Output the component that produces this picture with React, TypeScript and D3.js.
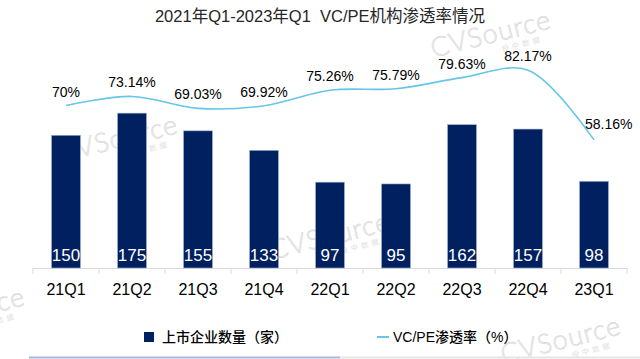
import React from 'react';
import * as d3 from 'd3';

const categories = ['21Q1', '21Q2', '21Q3', '21Q4', '22Q1', '22Q2', '22Q3', '22Q4', '23Q1'];
const companies = [150, 175, 155, 133, 97, 95, 162, 157, 98];
const rates = [70, 73.14, 69.03, 69.92, 75.26, 75.79, 79.63, 82.17, 58.16];
const rateLabels = ['70%', '73.14%', '69.03%', '69.92%', '75.26%', '75.79%', '79.63%', '82.17%', '58.16%'];
const title = '2021年Q1-2023年Q1\u00a0\u00a0VC/PE机构渗透率情况';
const legendBar = '上市企业数量（家）';
const legendLine = 'VC/PE渗透率（%）';

const W = 640;
const H = 359;
const FONT = "'Liberation Sans', Arial, 'Noto Sans CJK SC', sans-serif";
const BAR = '#002060';
const LINE = '#65c6ea';

const watermarks: [number, number][] = [
  [491, 35],
  [118, 140],
  [330, 237],
  [561, 341],
  [-35, 312],
];

export default function App() {
  const x = d3.scaleBand<string>().domain(categories).range([33, 627]).paddingInner(0.56).paddingOuter(0.28);
  const yBar = d3.scaleLinear().domain([0, 200]).range([268, 91]);
  const yRate = d3.scaleLinear().domain([14, 100]).range([268, 18.5]);
  const cx = (c: string) => (x(c) as number) + x.bandwidth() / 2;

  const pts: [number, number][] = categories.map((c, i) => [cx(c), yRate(rates[i])]);
  const linePath = d3.line().curve(d3.curveCatmullRom.alpha(0.5))(pts) || '';

  const step = x.step();
  const boundaries = d3.range(categories.length + 1).map((i) => 33 + i * step);

  return (
    <svg width={W} height={H} style={{ position: 'absolute', left: 0, top: 0, background: '#fff' }} fontFamily={FONT}>
      <rect x={0} y={0} width={W} height={H} fill="#fff" />
      {watermarks.map(([wx, wy], i) => (
        <g key={i} transform={`translate(${wx},${wy}) rotate(-14)`}>
          <text
            x={0}
            y={8}
            textAnchor="middle"
            fontSize={27}
            fontFamily="Lato, 'Open Sans', sans-serif"
            fontWeight={300}
            fill="#f3f3f3"
            stroke="#d8d8d8"
            strokeWidth={0.6}
            letterSpacing={1}
          >
            CVSource
          </text>
          <text x={28} y={19} textAnchor="middle" fontSize={7.5} fill="#e2e2e2" fontFamily="'Noto Sans CJK SC', sans-serif" letterSpacing={3}>
            投中数据
          </text>
        </g>
      ))}

      <text x={320} y={22} textAnchor="middle" fontSize={16.5} fill="#262626">
        {title}
      </text>

      {/* x axis */}
      <line x1={33} x2={627} y1={268.5} y2={268.5} stroke="#d9d9d9" strokeWidth={1} />
      {boundaries.map((bx, i) => (
        <line key={i} x1={bx} x2={bx} y1={268} y2={274} stroke="#d9d9d9" strokeWidth={1} />
      ))}
      {categories.map((c) => (
        <text key={c} x={cx(c)} y={295} textAnchor="middle" fontSize={16} fill="#000">
          {c}
        </text>
      ))}

      {/* bars */}
      {categories.map((c, i) => (
        <rect
          key={c}
          x={x(c)}
          y={yBar(companies[i])}
          width={x.bandwidth()}
          height={yBar(0) - yBar(companies[i])}
          fill={BAR}
          stroke="#a9b8d4"
          strokeWidth={0.6}
        />
      ))}
      {categories.map((c, i) => (
        <text key={c} x={cx(c)} y={261} textAnchor="middle" fontSize={17} fill="#fff">
          {companies[i]}
        </text>
      ))}

      {/* line */}
      <path d={linePath} fill="none" stroke={LINE} strokeWidth={1.6} />
      {pts.map(([px, py], i) => {
        const last = i === pts.length - 1;
        return (
          <text
            key={i}
            x={last ? px - 9 : px}
            y={last ? py - 11 : py - 9}
            textAnchor={last ? 'start' : 'middle'}
            fontSize={14}
            fill="#000"
          >
            {rateLabels[i]}
          </text>
        );
      })}

      {/* legend */}
      <rect x={144} y={332} width={10} height={10} fill={BAR} />
      <text x={162} y={342} fontSize={14} fontWeight={500} fill="#000">
        {legendBar}
      </text>
      <line x1={377} x2={389} y1={337} y2={337} stroke={LINE} strokeWidth={2} />
      <text x={393} y={342} fontSize={14} fontWeight={500} fill="#000">
        {legendLine}
      </text>

      {/* bottom frame */}
      <line x1={29} x2={340} y1={357.5} y2={357.5} stroke="#a9b9d9" strokeWidth={2} />
      <line x1={340} x2={640} y1={357.5} y2={357.5} stroke="#e6e6e6" strokeWidth={2} />
    </svg>
  );
}
